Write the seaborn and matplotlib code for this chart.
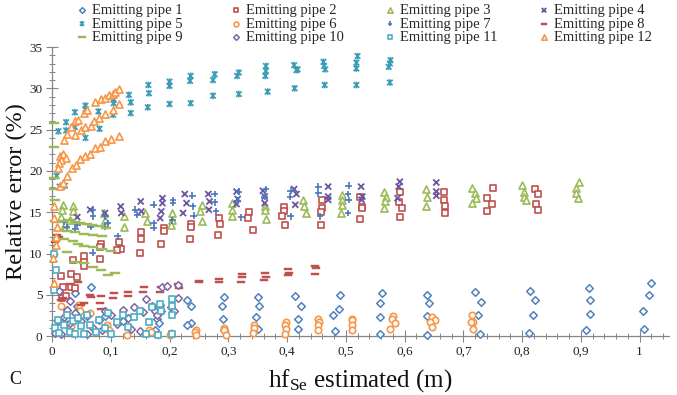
import numpy as np
import pandas as pd
import seaborn as sns
import matplotlib.pyplot as plt
from matplotlib.path import Path

# ---------------- data ----------------
series_names = [f"Emitting pipe {i}" for i in range(1, 13)]

p1_x = [0.040, 0.066, 0.042, 0.031, 0.090, 0.120, 0.178, 0.182, 0.176,
        0.229, 0.236, 0.236, 0.229, 0.292, 0.290, 0.291, 0.292,
        0.350, 0.352, 0.348, 0.350, 0.413, 0.423, 0.418, 0.418,
        0.481, 0.490, 0.489, 0.478, 0.558, 0.561, 0.559, 0.558,
        0.638, 0.642, 0.638, 0.638, 0.720, 0.730, 0.725, 0.729,
        0.814, 0.822, 0.819, 0.812, 0.914, 0.916, 0.916, 0.909,
        1.020, 1.016, 1.006, 1.008]
p1_y = [5.2, 6.0, 3.6, 1.1, 2.4, 1.8, 2.1, 1.6, 0.8,
        4.4, 3.6, 1.6, 1.3, 4.7, 3.6, 2.1, 0.8,
        4.7, 3.6, 2.3, 0.9, 4.8, 3.6, 2.1, 0.9,
        0.6, 5.0, 3.3, 2.5, 4.0, 5.2, 2.3, 0.2,
        5.0, 4.0, 2.4, 0.1, 5.4, 4.1, 2.5, 0.3,
        5.5, 4.4, 2.5, 0.4, 5.8, 4.4, 2.7, 0.7,
        6.4, 5.0, 3.1, 0.9]

p2_x = [0.015, 0.033, 0.042, 0.018, 0.032, 0.040, 0.017, 0.023,
        0.035, 0.054, 0.055, 0.055, 0.083, 0.082, 0.082,
        0.114, 0.117, 0.111, 0.151, 0.152, 0.150,
        0.190, 0.190, 0.186, 0.236, 0.237, 0.234,
        0.284, 0.286, 0.283, 0.336, 0.334, 0.342,
        0.395, 0.395, 0.392, 0.397, 0.459, 0.460, 0.458, 0.458,
        0.524, 0.528, 0.528, 0.524, 0.592, 0.591, 0.595, 0.593,
        0.667, 0.667, 0.668, 0.668, 0.750, 0.741, 0.749, 0.741,
        0.822, 0.827, 0.824, 0.827]
p2_y = [7.3, 7.5, 7.2, 5.9, 5.9, 5.8, 4.6, 4.8,
        9.2, 9.7, 9.0, 8.5, 11.2, 10.8, 9.3,
        11.4, 10.6, 10.4, 12.6, 11.7, 10.1,
        13.1, 12.7, 11.1, 13.6, 13.2, 11.8,
        14.3, 13.6, 12.3, 15.0, 14.3, 12.9,
        15.6, 15.1, 14.5, 13.5, 16.5, 15.5, 15.0, 13.5,
        16.9, 15.6, 15.5, 14.2, 17.5, 16.2, 15.5, 14.4,
        17.4, 16.5, 15.8, 14.9, 17.9, 16.7, 16.0, 15.1,
        17.8, 17.2, 16.0, 15.3]

p3_x = [0.019, 0.017, 0.015, 0.022, 0.036, 0.036, 0.030,
        0.088, 0.090, 0.122, 0.122, 0.159, 0.161,
        0.205, 0.204, 0.203, 0.255, 0.252, 0.255,
        0.306, 0.307, 0.307, 0.363, 0.363, 0.364,
        0.427, 0.428, 0.432, 0.493, 0.493, 0.493, 0.491,
        0.565, 0.569, 0.566, 0.565, 0.637, 0.638, 0.637,
        0.715, 0.719, 0.721, 0.715, 0.799, 0.803, 0.804, 0.806,
        0.896, 0.892, 0.891, 0.895]
p3_y = [15.9, 15.3, 14.4, 13.6, 15.7, 15.1, 14.0,
        14.9, 14.1, 14.5, 13.2, 14.9, 13.9,
        14.9, 14.1, 13.5, 15.9, 15.1, 13.9,
        16.1, 15.3, 14.5, 15.7, 15.3, 14.2,
        16.5, 15.7, 14.9, 17.1, 16.5, 15.9, 14.9,
        17.4, 16.8, 16.3, 15.5, 17.8, 16.8, 15.7,
        17.9, 17.3, 16.7, 16.1, 18.3, 17.4, 16.9, 16.5,
        18.6, 17.9, 17.3, 16.7]

p4_x = [0.043, 0.065, 0.090, 0.117, 0.118, 0.151, 0.152,
        0.188, 0.188, 0.186, 0.184, 0.226, 0.229, 0.223,
        0.266, 0.268, 0.267, 0.314, 0.316, 0.314,
        0.359, 0.362, 0.362, 0.412, 0.416, 0.414,
        0.470, 0.470, 0.470, 0.526, 0.528, 0.527,
        0.592, 0.590, 0.588, 0.654, 0.654, 0.654]
p4_y = [14.4, 15.3, 14.9, 15.7, 14.9, 16.3, 15.1,
        16.7, 16.1, 15.1, 14.3, 17.2, 16.1, 14.9,
        17.2, 16.3, 15.3, 17.5, 16.6, 16.0,
        17.6, 16.9, 16.1, 17.8, 17.2, 15.9,
        18.1, 16.9, 16.5, 18.1, 16.9, 16.5,
        18.7, 18.1, 16.7, 18.6, 17.5, 17.0]

p5_x = [0.008, 0.013, 0.022, 0.011, 0.024, 0.024, 0.039, 0.039,
        0.057, 0.057, 0.057, 0.079, 0.081, 0.105, 0.105, 0.104,
        0.131, 0.134, 0.134, 0.164, 0.165, 0.163,
        0.200, 0.200, 0.200, 0.236, 0.235, 0.236,
        0.277, 0.274, 0.274, 0.318, 0.315, 0.318,
        0.364, 0.364, 0.363, 0.367, 0.412, 0.416, 0.418, 0.413,
        0.462, 0.463, 0.465, 0.464, 0.520, 0.518, 0.518, 0.518,
        0.576, 0.575, 0.573, 0.575]
p5_y = [19.4, 18.1, 18.2, 24.8, 25.9, 24.9, 27.1, 25.3,
        27.9, 27.5, 24.0, 27.2, 25.1, 28.6, 28.2, 26.8,
        29.2, 28.3, 27.0, 30.4, 29.4, 27.7,
        30.8, 30.3, 28.1, 31.5, 30.9, 28.2,
        31.7, 31.0, 29.1, 31.9, 31.5, 29.3,
        32.7, 32.1, 31.5, 29.6, 32.8, 32.2, 32.3, 30.0,
        33.2, 32.7, 32.3, 30.4, 33.9, 33.1, 32.4, 30.4,
        33.4, 33.0, 32.6, 30.7]

p6_x = [0.015, 0.046, 0.047, 0.026, 0.033, 0.065, 0.094, 0.097, 0.128,
        0.165, 0.168, 0.203, 0.200,
        0.245, 0.244, 0.245, 0.293, 0.292, 0.296,
        0.344, 0.343, 0.342, 0.398, 0.396, 0.398, 0.397,
        0.453, 0.454, 0.452, 0.452, 0.511, 0.511, 0.511, 0.511,
        0.580, 0.578, 0.583, 0.575, 0.646, 0.651, 0.644, 0.647,
        0.715, 0.716, 0.713, 0.717]
p6_y = [3.6, 3.8, 3.1, 1.5, 1.2, 2.8, 1.3, 0.7, 0.1,
        0.7, 0.5, 0.4, 0.1,
        0.8, 0.5, 0.1, 1.0, 0.7, 0.1,
        1.3, 1.0, 0.4, 1.7, 1.3, 0.9, 0.2,
        2.1, 1.7, 1.3, 0.8, 2.1, 1.9, 1.4, 0.8,
        2.4, 2.1, 1.6, 0.9, 2.3, 2.0, 1.7, 1.1,
        2.5, 1.7, 1.7, 0.9]

p7_x = [0.020, 0.025, 0.043, 0.040, 0.070, 0.070, 0.066, 0.069,
        0.091, 0.095, 0.091, 0.112, 0.142, 0.145,
        0.173, 0.173, 0.173, 0.206, 0.206, 0.205,
        0.239, 0.240, 0.241, 0.277, 0.277, 0.279,
        0.318, 0.316, 0.322, 0.364, 0.362,
        0.406, 0.405, 0.406, 0.453, 0.453, 0.456,
        0.505, 0.504, 0.505, 0.504]
p7_y = [13.8, 13.2, 13.5, 13.0, 15.3, 14.5, 13.2, 10.1,
        14.5, 13.7, 13.2, 12.1, 15.3, 14.7,
        15.9, 13.7, 13.1, 16.5, 16.1, 14.0,
        17.0, 15.7, 14.6, 17.2, 16.2, 15.1,
        17.5, 16.4, 14.4, 17.8, 16.9,
        17.6, 16.9, 14.5, 18.1, 17.3, 14.5,
        18.2, 17.2, 16.5, 14.9]

p8_x = [0.008, 0.012, 0.005, 0.019, 0.015, 0.030, 0.045, 0.054, 0.050,
        0.065, 0.066, 0.083, 0.082, 0.084, 0.106, 0.104,
        0.130, 0.130, 0.156, 0.155, 0.186, 0.184, 0.215, 0.216,
        0.250, 0.250, 0.285, 0.284, 0.323, 0.324, 0.322,
        0.362, 0.364, 0.360, 0.402, 0.404, 0.402, 0.447, 0.449, 0.447]
p8_y = [12.3, 12.0, 11.4, 4.6, 4.4, 6.3, 6.5, 4.0, 3.8,
        5.0, 4.7, 4.9, 4.0, 3.3, 5.2, 4.6,
        5.3, 4.8, 6.0, 5.3, 6.0, 5.4, 6.3, 5.8,
        6.7, 6.5, 6.9, 6.5, 7.5, 7.1, 6.6,
        7.6, 7.2, 6.8, 8.1, 7.7, 7.4, 8.5, 8.2, 7.5]

p9_x = [0.003, 0.003, 0.003, 0.004, 0.005,
        0.008, 0.018, 0.030, 0.039, 0.048, 0.059, 0.068, 0.080, 0.092,
        0.012, 0.025, 0.040, 0.055, 0.070, 0.085,
        0.020, 0.035, 0.045, 0.055, 0.070, 0.085, 0.100,
        0.025, 0.040, 0.055, 0.070, 0.083, 0.095, 0.108]
p9_y = [25.8, 22.9, 19.1, 17.8, 16.5,
        13.8, 13.9, 14.0, 13.8, 13.7, 13.6, 13.5, 13.3, 13.1,
        12.9, 12.7, 12.6, 12.4, 12.3, 12.1,
        11.8, 11.5, 11.2, 10.9, 10.8, 10.6, 10.3,
        10.2, 9.0, 8.8, 8.4, 8.0, 7.4, 7.6]

p10_x = [0.005, 0.015, 0.010, 0.020, 0.030, 0.025, 0.040, 0.050, 0.060,
         0.070, 0.080, 0.090, 0.085, 0.100, 0.110, 0.120, 0.130, 0.140,
         0.150, 0.160, 0.170, 0.175, 0.178, 0.184, 0.186, 0.188, 0.195,
         0.203, 0.207, 0.214, 0.215, 0.030, 0.012, 0.060, 0.135, 0.155]
p10_y = [0.4, 0.3, 1.8, 2.3, 1.6, 3.2, 2.8, 1.8, 2.4,
         1.0, 2.0, 3.0, 0.8, 2.5, 1.5, 3.2, 2.2, 3.5,
         0.6, 4.5, 3.7, 3.1, 2.5, 3.8, 3.0, 6.0, 6.1,
         3.5, 3.1, 4.6, 6.2, 4.3, 5.5, 0.3, 0.9, 2.9]

p11_x = [0.005, 0.010, 0.012, 0.020, 0.025, 0.030, 0.035, 0.040, 0.045,
         0.050, 0.055, 0.060, 0.065, 0.075, 0.080, 0.090, 0.095, 0.100,
         0.110, 0.120, 0.130, 0.140, 0.150, 0.160, 0.165, 0.170, 0.184,
         0.185, 0.205, 0.205, 0.204, 0.205, 0.180, 0.004, 0.006, 0.004]
p11_y = [1.0, 2.0, 0.4, 1.3, 2.6, 0.5, 1.8, 0.3, 2.2,
         1.2, 0.2, 2.6, 1.4, 0.5, 2.0, 1.0, 2.8, 0.2,
         1.7, 2.6, 1.1, 2.3, 3.1, 0.2, 1.7, 3.5, 3.9,
         3.1, 4.5, 3.6, 2.5, 0.3, 0.1, 10.0, 8.0, 5.6]

p12_x = [0.032, 0.040, 0.045, 0.054, 0.060, 0.074, 0.083, 0.091, 0.097, 0.103, 0.108, 0.114,
         0.020, 0.025,
         0.040, 0.049, 0.057, 0.066, 0.071, 0.080, 0.091, 0.103, 0.114,
         0.025, 0.034, 0.041, 0.048, 0.056, 0.064, 0.073, 0.082, 0.091, 0.101, 0.114,
         0.013, 0.019, 0.023, 0.016, 0.012, 0.011, 0.013, 0.018,
         0.004, 0.003, 0.008, 0.006, 0.007, 0.002, 0.003]
p12_y = [25.3, 26.0, 26.2, 27.0, 27.4, 28.3, 28.7, 28.8, 29.2, 29.3, 29.6, 29.9,
         23.8, 24.5,
         24.4, 24.9, 25.3, 25.4, 26.0, 26.4, 26.9, 27.4, 28.1,
         19.4, 20.3, 20.7, 21.4, 21.8, 22.0, 22.8, 22.9, 23.6, 23.9, 24.2,
         21.8, 22.0, 21.6, 21.3, 20.9, 20.3, 18.2, 18.5,
         15.7, 14.3, 13.2, 12.0, 11.0, 9.4, 6.4]

series_x = [p1_x, p2_x, p3_x, p4_x, p5_x, p6_x, p7_x, p8_x, p9_x, p10_x, p11_x, p12_x]
series_y = [p1_y, p2_y, p3_y, p4_y, p5_y, p6_y, p7_y, p8_y, p9_y, p10_y, p11_y, p12_y]

x_ticks = [0, 0.1, 0.2, 0.3, 0.4, 0.5, 0.6, 0.7, 0.8, 0.9, 1.0]
x_tick_labels = ["0", "0,1", "0,2", "0,3", "0,4", "0,5", "0,6", "0,7", "0,8", "0,9", "1"]
y_ticks = [0, 5, 10, 15, 20, 25, 30, 35]

# ---------------- style ----------------
sns.set_theme(style="white")
plt.rcParams["font.family"] = ["Liberation Serif", "DejaVu Serif"]
plt.rcParams["mathtext.fontset"] = "custom"
plt.rcParams["mathtext.rm"] = "Liberation Serif"
plt.rcParams["mathtext.it"] = "Liberation Serif:italic"

star = Path([(-1, -1), (1, 1), (-1, 1), (1, -1), (0, -1.2), (0, 1.2)],
            [Path.MOVETO, Path.LINETO, Path.MOVETO, Path.LINETO, Path.MOVETO, Path.LINETO])
dash = Path([(-1, -0.38), (1, -0.38), (1, 0.38), (-1, 0.38), (-1, -0.38)],
            [Path.MOVETO, Path.LINETO, Path.LINETO, Path.LINETO, Path.CLOSEPOLY])
longdash = Path([(-1, -0.18), (1, -0.18), (1, 0.18), (-1, 0.18), (-1, -0.18)],
                [Path.MOVETO, Path.LINETO, Path.LINETO, Path.LINETO, Path.CLOSEPOLY])

BLUE, RED, GREEN, PURPLE, AQUA, ORANGE = "#4F81BD", "#C0504D", "#9BBB59", "#8064A2", "#4BACC6", "#F79646"
# marker, size, edgecolor, facecolor, linewidth
styles = [
    ("D", 15, BLUE, "white", 1.1),
    ("s", 21, RED, "white", 1.2),
    ("^", 26, GREEN, "white", 1.2),
    ("x", 19, "#6A55A0", "none", 1.3),
    (star, 23, "#3A9CB6", "none", 1.2),
    ("o", 21, ORANGE, "white", 1.2),
    ("+", 23, "#4A78C0", "none", 1.2),
    (dash, 27, RED, RED, 0.3),
    (longdash, 60, GREEN, GREEN, 0.3),
    ("D", 15, PURPLE, "white", 1.1),
    ("s", 21, AQUA, "white", 1.2),
    ("^", 26, ORANGE, "white", 1.2),
]

rows = []
for name, xs, ys in zip(series_names, series_x, series_y):
    for xv, yv in zip(xs, ys):
        rows.append((name, xv, yv))
df = pd.DataFrame(rows, columns=["series", "x", "y"])

fig = plt.figure(figsize=(6.77, 3.95), dpi=100)
ax = fig.add_axes([0.0768, 0.149, 0.9114, 0.732])

handles = []
for name, (mk, s, ec, fc, lw) in zip(series_names, styles):
    sub = df[df["series"] == name]
    sns.scatterplot(data=sub, x="x", y="y", marker=mk, s=s, color=ec,
                    ax=ax, legend=False, label=name, zorder=3)
    coll = ax.collections[-1]
    coll.set_facecolor(fc)
    coll.set_edgecolor(ec)
    coll.set_linewidth(lw)
    coll.set_clip_on(False)
    handles.append(coll)

ax.set_xlim(0, 1.05)
ax.set_ylim(0, 35)
ax.set_xticks(x_ticks)
ax.set_xticklabels(x_tick_labels)
ax.set_yticks(y_ticks)
ax.set_xticks(np.arange(0, 1.05, 0.02), minor=True)
ax.set_yticks(np.arange(0, 35.1, 1), minor=True)

GRAY = "#868686"
for side in ["top", "right"]:
    ax.spines[side].set_visible(False)
for side in ["left", "bottom"]:
    ax.spines[side].set_color(GRAY)
    ax.spines[side].set_linewidth(0.9)
ax.tick_params(axis="both", which="major", direction="inout", length=8, width=0.8,
               color=GRAY, labelsize=9.5, labelcolor="#222222", pad=3)
ax.tick_params(axis="both", which="minor", direction="inout", length=5, width=0.7,
               color=GRAY)
ax.tick_params(axis="x", which="both", bottom=True)
ax.tick_params(axis="y", which="both", left=True)

ax.set_xlabel(r"hf$_{\mathregular{Se}}$ estimated (m)", fontsize=18, labelpad=7, color="#111111")
ax.set_ylabel("Relative error (%)", fontsize=17.5, labelpad=1, color="#111111")
fig.text(0.013, 0.028, "C", fontsize=13, color="#111111")

# legend: one column per legend box so the four columns sit at even intervals
col_left = [0.1103, 0.3378, 0.5653, 0.7928]
for j in range(4):
    idx = [j, j + 4, j + 8]
    fig.legend([handles[i] for i in idx], [series_names[i] for i in idx],
               loc="upper left", bbox_to_anchor=(col_left[j], 0.994), ncol=1,
               frameon=False, fontsize=10.5, markerscale=0.75, handlelength=0.8,
               handletextpad=0.3, labelspacing=0.02, borderpad=0.1,
               borderaxespad=0, scatterpoints=1)

fig.savefig("out.png", dpi=100)
